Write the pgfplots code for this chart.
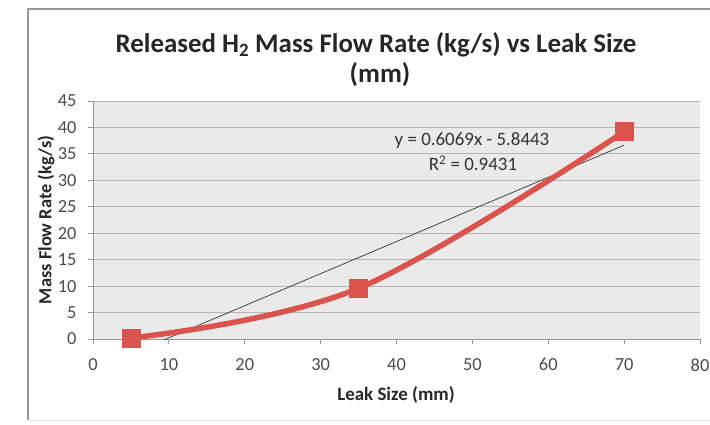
\documentclass[border=0pt]{standalone}
\usepackage{pgfplots}
\pgfplotsset{compat=1.18}
\usepackage{fontspec}
\setmainfont{Carlito}
\definecolor{serred}{RGB}{218,84,77}
\definecolor{plotbg}{RGB}{234,234,234}
\definecolor{gridc}{RGB}{180,180,180}
\definecolor{axc}{RGB}{150,150,150}
\begin{document}
\begin{tikzpicture}[x=1bp,y=1bp]
\path[use as bounding box] (0,0) rectangle (710,424);
\fill[white] (0,0) rectangle (710,424);
\draw[color=gray!80,line width=1.2bp] (28,4) -- (28,415) -- (712,415);
\draw[color=gray!20,line width=0.8bp] (28,4) -- (712,4);
\begin{axis}[
  at={(93bp,85bp)}, anchor=south west,
  scale only axis, width=607bp, height=238bp,
  xmin=0, xmax=80, ymin=0, ymax=45,
  xtick={0,10,...,80}, ytick={0,5,...,45},
  axis background/.style={fill=plotbg},
  axis x line*=bottom, axis y line*=left,
  axis line style={draw=axc, line width=0.8bp},
  every tick/.style={draw=axc, line width=0.8bp},
  tick align=outside, major tick length=5bp,
  ymajorgrids, grid style={draw=gridc, line width=0.8bp},
  /pgf/number format/assume math mode=true,
  ticklabel style={font=\fontsize{18.5}{20}\selectfont, text=black!70},
  xticklabel style={yshift=-11bp},
  yticklabel style={xshift=-8bp},
  clip=true,
]
\addplot[draw=black!80, line width=0.7bp] coordinates {(5,-2.8098) (70,36.6387)};
\addplot[draw=serred, line width=5.5bp, smooth, tension=0.6, mark=square*, mark size=9bp, mark options={fill=serred, draw=serred, line width=0.5bp}] coordinates {(5,0.2) (35,9.6) (70,39.2)};
\end{axis}
\node[font=\fontsize{27}{30}\selectfont\bfseries, text=black!85] at (376,379) {Released H\textsubscript{2} Mass Flow Rate (kg/s) vs Leak Size};
\node[font=\fontsize{27}{30}\selectfont\bfseries, text=black!85] at (380,349) {(mm)};
\node[font=\fontsize{19}{21}\selectfont\bfseries, text=black!85] at (396,29) {Leak Size (mm)};
\node[font=\fontsize{18.5}{21}\selectfont\bfseries, text=black!85, rotate=90] at (46,204) {Mass Flow Rate (kg/s)};
\node[font=\fontsize{19}{21}\selectfont, text=black!80] at (472,283) {y = 0.6069x - 5.8443};
\node[font=\fontsize{19}{21}\selectfont, text=black!80] at (473,261) {R\textsuperscript{2} = 0.9431};
\end{tikzpicture}
\end{document}
